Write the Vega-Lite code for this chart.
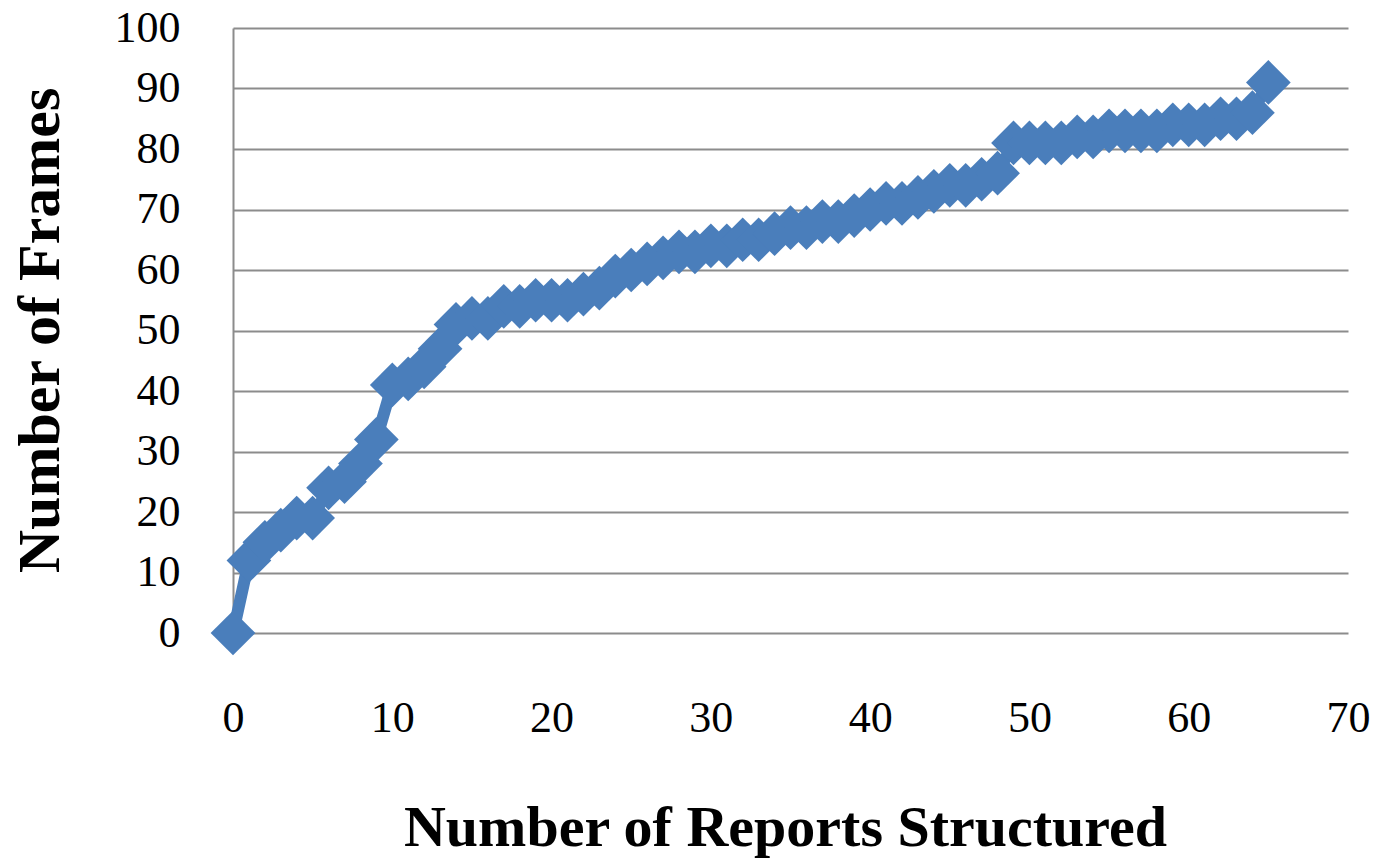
{
  "$schema": "https://vega.github.io/schema/vega-lite/v6.json",
  "autosize": "none",
  "width": 1115,
  "height": 605,
  "padding": {"left": 233, "top": 28, "right": 33, "bottom": 228},
  "background": "white",
  "config": {
    "view": {"stroke": null},
    "font": "Liberation Serif"
  },
  "data": {
    "values": [
      {"reports": 0, "frames": 0}, {"reports": 1, "frames": 12}, {"reports": 2, "frames": 15},
      {"reports": 3, "frames": 17}, {"reports": 4, "frames": 19}, {"reports": 5, "frames": 19},
      {"reports": 6, "frames": 24}, {"reports": 7, "frames": 25}, {"reports": 8, "frames": 28},
      {"reports": 9, "frames": 32}, {"reports": 10, "frames": 41}, {"reports": 11, "frames": 42},
      {"reports": 12, "frames": 44}, {"reports": 13, "frames": 47}, {"reports": 14, "frames": 51},
      {"reports": 15, "frames": 52}, {"reports": 16, "frames": 52}, {"reports": 17, "frames": 54},
      {"reports": 18, "frames": 54}, {"reports": 19, "frames": 55}, {"reports": 20, "frames": 55},
      {"reports": 21, "frames": 55}, {"reports": 22, "frames": 56}, {"reports": 23, "frames": 57},
      {"reports": 24, "frames": 59}, {"reports": 25, "frames": 60}, {"reports": 26, "frames": 61},
      {"reports": 27, "frames": 62}, {"reports": 28, "frames": 63}, {"reports": 29, "frames": 63},
      {"reports": 30, "frames": 64}, {"reports": 31, "frames": 64}, {"reports": 32, "frames": 65},
      {"reports": 33, "frames": 65}, {"reports": 34, "frames": 66}, {"reports": 35, "frames": 67},
      {"reports": 36, "frames": 67}, {"reports": 37, "frames": 68}, {"reports": 38, "frames": 68},
      {"reports": 39, "frames": 69}, {"reports": 40, "frames": 70}, {"reports": 41, "frames": 71},
      {"reports": 42, "frames": 71}, {"reports": 43, "frames": 72}, {"reports": 44, "frames": 73},
      {"reports": 45, "frames": 74}, {"reports": 46, "frames": 74}, {"reports": 47, "frames": 75},
      {"reports": 48, "frames": 76}, {"reports": 49, "frames": 81}, {"reports": 50, "frames": 81},
      {"reports": 51, "frames": 81}, {"reports": 52, "frames": 81}, {"reports": 53, "frames": 82},
      {"reports": 54, "frames": 82}, {"reports": 55, "frames": 83}, {"reports": 56, "frames": 83},
      {"reports": 57, "frames": 83}, {"reports": 58, "frames": 83}, {"reports": 59, "frames": 84},
      {"reports": 60, "frames": 84}, {"reports": 61, "frames": 84}, {"reports": 62, "frames": 85},
      {"reports": 63, "frames": 85}, {"reports": 64, "frames": 86}, {"reports": 65, "frames": 91}
    ]
  },
  "encoding": {
    "x": {
      "field": "reports", "type": "quantitative",
      "scale": {"domain": [0, 70], "nice": false, "zero": false},
      "axis": {
        "title": "Number of Reports Structured",
        "values": [0, 10, 20, 30, 40, 50, 60, 70],
        "grid": false, "domain": false, "ticks": false, "tickSize": 0,
        "labelFlush": false, "labelOverlap": false,
        "labelPadding": 85, "labelBaseline": "middle", "labelFontSize": 44, "labelColor": "#000000",
        "labelFont": "Liberation Serif", "labelDx": -6,
        "titleFont": "Liberation Serif", "titleFontSize": 58, "titleFontWeight": "bold",
        "titleColor": "#000000", "titleX": 552, "titleY": 195, "titleBaseline": "middle",
        "titleAlign": "center", "titleAnchor": "middle"
      }
    },
    "y": {
      "field": "frames", "type": "quantitative",
      "scale": {"domain": [0, 100], "nice": false},
      "axis": {
        "title": "Number of Frames",
        "values": [0, 10, 20, 30, 40, 50, 60, 70, 80, 90, 100],
        "grid": true, "gridColor": "#8c8c8c", "gridWidth": 2,
        "domain": true, "domainColor": "#8c8c8c", "domainWidth": 2,
        "ticks": false, "tickSize": 0, "labelOverlap": false, "labelFlush": false,
        "labelPadding": 53, "labelFontSize": 44, "labelColor": "#000000",
        "labelFont": "Liberation Serif", "labelBaseline": "middle",
        "titleFont": "Liberation Serif", "titleFontSize": 60, "titleFontWeight": "bold",
        "titleColor": "#000000", "titleAngle": -90, "titleX": -193, "titleY": 302,
        "titleAlign": "center", "titleBaseline": "middle", "titleAnchor": "middle"
      }
    }
  },
  "layer": [
    {
      "mark": {"type": "line", "color": "#4a7ebb", "strokeWidth": 12}
    },
    {
      "mark": {"type": "point", "shape": "diamond", "filled": true, "color": "#4a7ebb", "opacity": 1, "size": 2000}
    }
  ]
}
